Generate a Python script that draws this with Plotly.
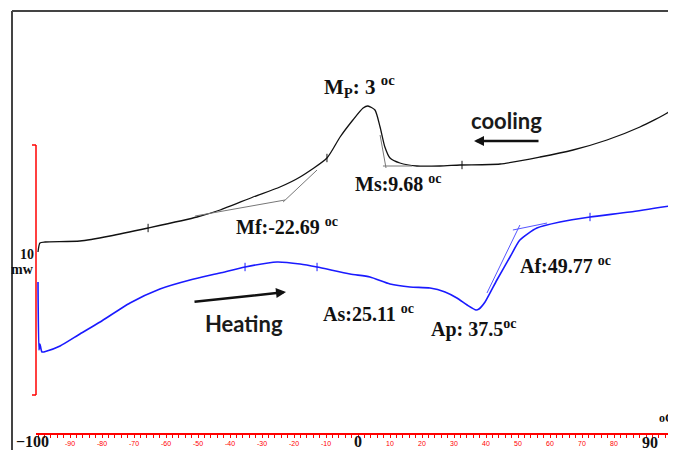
import plotly.graph_objects as go

# Cooling curve (black): temperature (°C), heat flow (mW, arbitrary offset)
cool_T = [-100.0, -99.4, -97.8, -86.9, -77.5, -65.6, -50.3, -43.1, -32.8, -24.4, -18.1, -9.7,
          -5.6, -1.6, 1.6, 3.1, 5.3, 6.9, 8.4, 10.0, 13.1, 18.4, 25.6, 31.9, 44.4, 56.9,
          67.2, 77.8, 88.1, 96.6, 98.4, 99.4]
cool_Q = [7.92, 8.28, 8.32, 8.36, 8.56, 8.88, 9.32, 9.6, 10.12, 10.52, 10.92, 11.68,
          12.52, 13.2, 13.68, 13.76, 13.6, 12.92, 12.12, 11.68, 11.48, 11.36, 11.36, 11.4, 11.44, 11.72,
          12.0, 12.4, 12.92, 13.48, 13.68, 13.52]

# Heating curve (blue)
heat_T = [-100.0, -99.7, -99.4, -98.75, -97.2, -93.1, -86.9, -80.6, -71.25, -61.9, -52.5, -43.1,
          -35.3, -25.3, -18.1, -12.8, -2.5, 3.75, 10.0, 16.25, 22.5, 27.2, 30.9, 34.1, 36.9,
          37.8, 39.7, 43.4, 47.5, 50.6, 55.9, 63.1, 72.5, 85.0, 99.4]
heat_Q = [6.72, 4.0, 4.24, 3.92, 3.96, 4.16, 4.64, 5.12, 5.88, 6.44, 6.8, 7.08,
          7.32, 7.52, 7.44, 7.32, 7.04, 6.92, 6.64, 6.52, 6.48, 6.32, 6.08, 5.8, 5.6,
          5.64, 5.92, 6.8, 7.72, 8.4, 8.88, 9.12, 9.32, 9.52, 9.8]

# Onset tangent construction lines
mf_base_T, mf_base_Q = [-50.9, -22.8], [9.36, 10.0]
mf_slope_T, mf_slope_Q = [-23.4, -12.8], [9.92, 11.2]
ms_base_T, ms_base_Q = [7.8, 16.9], [11.36, 11.36]
ms_slope_T, ms_slope_Q = [8.75, 6.9], [11.28, 12.6]
af_base_T, af_base_Q = [48.4, 59.1], [8.8, 9.08]
af_slope_T, af_slope_Q = [50.6, 40.3], [9.0, 6.28]

# Small tick marks on curves
cool_tick_T, cool_tick_Q = [-65.6, -9.7, 32.5], [8.88, 11.68, 11.4]
heat_tick_T, heat_tick_Q = [-35.3, -12.8, 72.5], [7.32, 7.32, 9.32]

# Axis tick labels
red_ticks = [-90, -80, -70, -60, -50, -40, -30, -20, -10, 10, 20, 30, 40, 50, 60, 70, 80, 100]

# page has an 8px body margin: figure is sized to fill the rest of the window
OFF = 8
W, H = 676 - OFF, 450 - OFF
def px(x):
    return (x - OFF) / W
def py(y):
    return 1 - (y - OFF) / H

fig = go.Figure()
fig.add_trace(go.Scatter(x=cool_T, y=cool_Q, mode="lines", line=dict(color="#111111", width=1.3, shape="spline", smoothing=0.6)))
fig.add_trace(go.Scatter(x=heat_T, y=heat_Q, mode="lines", line=dict(color="#1a1aff", width=1.6, shape="spline", smoothing=0.6)))
for tx, ty in [(mf_base_T, mf_base_Q), (mf_slope_T, mf_slope_Q), (ms_base_T, ms_base_Q), (ms_slope_T, ms_slope_Q)]:
    fig.add_trace(go.Scatter(x=tx, y=ty, mode="lines", line=dict(color="#777777", width=1)))
for tx, ty in [(af_base_T, af_base_Q), (af_slope_T, af_slope_Q)]:
    fig.add_trace(go.Scatter(x=tx, y=ty, mode="lines", line=dict(color="#5555ff", width=1)))
fig.add_trace(go.Scatter(x=cool_tick_T, y=cool_tick_Q, mode="markers",
                         marker=dict(symbol="line-ns", size=6, line=dict(color="#111111", width=1))))
fig.add_trace(go.Scatter(x=heat_tick_T, y=heat_tick_Q, mode="markers",
                         marker=dict(symbol="line-ns", size=6, line=dict(color="#1a1aff", width=1))))

x0 = (36 - 358) / 3.2
x1 = (676 - 358) / 3.2
fig.update_layout(
    width=W, height=H, margin=dict(l=0, r=0, t=0, b=0),
    paper_bgcolor="white", plot_bgcolor="white", showlegend=False,
    xaxis=dict(domain=[px(36), 1], range=[x0, x1], anchor="free", position=py(434),
               showgrid=False, zeroline=False, showline=True, linecolor="red", linewidth=1.5,
               ticks="outside", ticklen=3, tickcolor="red", tickwidth=1,
               tickvals=red_ticks, ticktext=[str(v) for v in red_ticks],
               tickfont=dict(size=7, color="red", family="Liberation Sans"),
               minor=dict(dtick=2, ticks="outside", ticklen=3, tickcolor="red", tickwidth=1)),
    yaxis=dict(range=[0, (450 - OFF) / 25], visible=False),
)

shapes = [
    dict(type="line", xref="paper", yref="paper", x0=px(12), x1=px(12), y0=py(11), y1=py(450), line=dict(color="#444444", width=2)),
    dict(type="line", xref="paper", yref="paper", x0=px(12), x1=px(676), y0=py(11), y1=py(11), line=dict(color="#444444", width=2)),
    dict(type="line", xref="paper", yref="paper", x0=px(36), x1=px(36), y0=py(145), y1=py(395), line=dict(color="red", width=1.5)),
    dict(type="line", xref="paper", yref="paper", x0=px(32), x1=px(36), y0=py(145), y1=py(145), line=dict(color="red", width=1.5)),
    dict(type="line", xref="paper", yref="paper", x0=px(32), x1=px(36), y0=py(395), y1=py(395), line=dict(color="red", width=1.5)),
]
fig.update_layout(shapes=shapes)

serif = "Liberation Serif"
ann = []
def txt(x, y, s, size, family=serif, color="#111111", xanchor="left"):
    ann.append(dict(x=px(x), y=py(y), xref="paper", yref="paper", text=s, showarrow=False,
                    xanchor=xanchor, yanchor="middle", font=dict(size=size, family=family, color=color)))

OC = "<sup>oc</sup>"
txt(322, 86, "<b>M<sub>P</sub>: 3 " + OC + "</b>", 21)
txt(353, 183, "<b>Ms:9.68 " + OC + "</b>", 20)
txt(234, 226, "<b>Mf:-22.69 " + OC + "</b>", 20)
txt(321, 313, "<b>As:25.11 " + OC + "</b>", 20)
txt(429, 328, "<b>Ap: 37.5" + OC + "</b>", 20)
txt(518, 265, "<b>Af:49.77 " + OC + "</b>", 20)
txt(469, 121, "<b>cooling</b>", 22, family="Lato", color="#1a1a1a")
txt(203, 323, "<b>Heating</b>", 22, family="Lato", color="#1a1a1a")
txt(27, 254, "<b>10</b>", 14, xanchor="center")
txt(22, 269, "<b>mw</b>", 14, xanchor="center")
txt(33, 441, "<b>−100</b>", 16, xanchor="center")
txt(358, 441, "<b>0</b>", 16, xanchor="center")
txt(650, 442, "<b>90</b>", 16, xanchor="center")
txt(676, 418, "<b>oC</b>", 12, xanchor="right")

# arrows
ann.append(dict(x=px(474), y=py(141), xref="paper", yref="paper", ax=66, ay=0, showarrow=True,
                arrowhead=2, arrowsize=0.8, arrowwidth=2.5, arrowcolor="#111111", text=""))
ann.append(dict(x=px(286), y=py(292), xref="paper", yref="paper", ax=-93, ay=10, showarrow=True,
                arrowhead=2, arrowsize=0.8, arrowwidth=2.5, arrowcolor="#111111", text=""))
fig.update_layout(annotations=ann)

fig.write_html("out.html")
